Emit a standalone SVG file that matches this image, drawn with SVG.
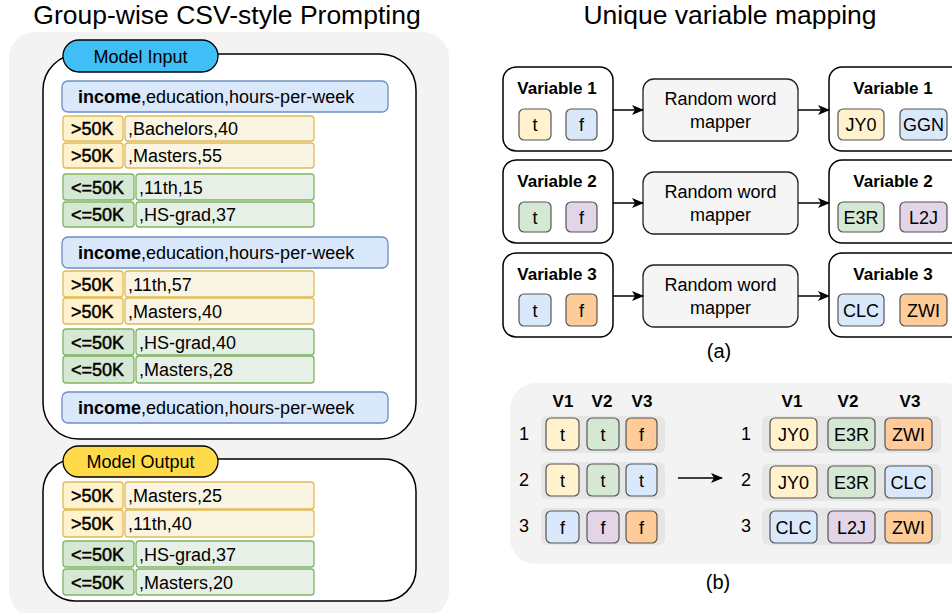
<svg xmlns="http://www.w3.org/2000/svg" width="952" height="613" viewBox="0 0 952 613">
<defs>
<style>
text{font-family:"Liberation Sans",Arial,sans-serif;fill:#000}
.t18{font-size:18px}
.b{font-weight:bold}
.k{stroke:#000;stroke-width:0.5}
.mid{text-anchor:middle}
.panel{fill:#f3f3f3}
.outer{fill:#fff;stroke:#000;stroke-width:1.5}
.hdr{fill:#dae8fc;stroke:#6c8ebf;stroke-width:1.3}
.yk{fill:#fff2cc;stroke:#e0ba58;stroke-width:1.3}
.yv{fill:#faf4e3;stroke:#e0ba58;stroke-width:1.3}
.gk{fill:#d5e8d4;stroke:#82b366;stroke-width:1.3}
.gv{fill:#e7f0e6;stroke:#82b366;stroke-width:1.3}
.box{fill:#fff;stroke:#000;stroke-width:1.5}
.mapper{fill:#f5f5f5;stroke:#222;stroke-width:1.3}
.chip{stroke:#555;stroke-width:1.2}
.cy{fill:#fff2cc}.cb{fill:#dae8fc}.cg{fill:#d5e8d4}.cp{fill:#e1d5e7}.co{fill:#ffcc99}
.strip{fill:#e6e6e6}
.conn{stroke:#000;stroke-width:1.5;fill:none}
</style>
<marker id="arr" viewBox="0 0 12 10" refX="11" refY="5" markerWidth="12" markerHeight="10" markerUnits="userSpaceOnUse" orient="auto">
<path d="M0,0 L12,5 L0,10 L3,5 z" fill="#000"/>
</marker>
</defs>

<!-- Titles -->
<text x="227" y="24" class="mid" style="font-size:26.5px">Group-wise CSV-style Prompting</text>
<text x="730" y="24" class="mid" style="font-size:26.5px">Unique variable mapping</text>

<!-- Left panel -->
<rect class="panel" x="9" y="32" width="440" height="585" rx="26"/>

<g id="model-input">
<rect class="outer" x="43" y="54" width="373" height="385" rx="36"/>
<rect x="63" y="40" width="155" height="32" rx="16" fill="#40bff6" stroke="#000" stroke-width="1.3"/>
<text x="140.5" y="62.5" class="t18 mid">Model Input</text>

<rect class="hdr" x="62" y="81" width="326" height="31" rx="6"/>
<text x="78" y="103" class="t18"><tspan class="b">income</tspan>,education,hours-per-week</text>

<rect class="yk" x="63" y="116" width="60" height="25" rx="3"/>
<rect class="yv" x="125" y="116" width="189" height="25" rx="3"/>
<text x="71" y="135" class="t18 k">&gt;50K</text><text x="128" y="135" class="t18">,Bachelors,40</text>
<rect class="yk" x="63" y="143" width="60" height="25" rx="3"/>
<rect class="yv" x="125" y="143" width="189" height="25" rx="3"/>
<text x="71" y="162" class="t18 k">&gt;50K</text><text x="128" y="162" class="t18">,Masters,55</text>

<rect class="gk" x="63" y="174" width="71" height="26" rx="3"/>
<rect class="gv" x="136" y="174" width="178" height="26" rx="3"/>
<text x="71" y="193.5" class="t18 k">&lt;=50K</text><text x="139" y="193.5" class="t18">,11th,15</text>
<rect class="gk" x="63" y="202" width="71" height="25" rx="3"/>
<rect class="gv" x="136" y="202" width="178" height="25" rx="3"/>
<text x="71" y="221" class="t18 k">&lt;=50K</text><text x="139" y="221" class="t18">,HS-grad,37</text>

<rect class="hdr" x="62" y="237" width="326" height="31" rx="6"/>
<text x="78" y="259" class="t18"><tspan class="b">income</tspan>,education,hours-per-week</text>

<rect class="yk" x="63" y="271" width="60" height="26" rx="3"/>
<rect class="yv" x="125" y="271" width="189" height="26" rx="3"/>
<text x="71" y="290.5" class="t18 k">&gt;50K</text><text x="128" y="290.5" class="t18">,11th,57</text>
<rect class="yk" x="63" y="298" width="60" height="26" rx="3"/>
<rect class="yv" x="125" y="298" width="189" height="26" rx="3"/>
<text x="71" y="317.5" class="t18 k">&gt;50K</text><text x="128" y="317.5" class="t18">,Masters,40</text>

<rect class="gk" x="63" y="329" width="71" height="26" rx="3"/>
<rect class="gv" x="136" y="329" width="178" height="26" rx="3"/>
<text x="71" y="348.5" class="t18 k">&lt;=50K</text><text x="139" y="348.5" class="t18">,HS-grad,40</text>
<rect class="gk" x="63" y="356" width="71" height="27" rx="3"/>
<rect class="gv" x="136" y="356" width="178" height="27" rx="3"/>
<text x="71" y="376" class="t18 k">&lt;=50K</text><text x="139" y="376" class="t18">,Masters,28</text>

<rect class="hdr" x="62" y="392" width="326" height="31" rx="6"/>
<text x="78" y="414" class="t18"><tspan class="b">income</tspan>,education,hours-per-week</text>
</g>

<g id="model-output">
<rect class="outer" x="43" y="459" width="373" height="142" rx="32"/>
<rect x="63" y="446" width="155" height="31" rx="15.5" fill="#ffdb4a" stroke="#000" stroke-width="1.3"/>
<text x="140.5" y="467.5" class="t18 mid">Model Output</text>

<rect class="yk" x="63" y="482" width="60" height="27" rx="3"/>
<rect class="yv" x="125" y="482" width="189" height="27" rx="3"/>
<text x="71" y="502" class="t18 k">&gt;50K</text><text x="128" y="502" class="t18">,Masters,25</text>
<rect class="yk" x="63" y="510" width="60" height="27" rx="3"/>
<rect class="yv" x="125" y="510" width="189" height="27" rx="3"/>
<text x="71" y="530" class="t18 k">&gt;50K</text><text x="128" y="530" class="t18">,11th,40</text>

<rect class="gk" x="63" y="541" width="71" height="26" rx="3"/>
<rect class="gv" x="136" y="541" width="178" height="26" rx="3"/>
<text x="71" y="560.5" class="t18 k">&lt;=50K</text><text x="139" y="560.5" class="t18">,HS-grad,37</text>
<rect class="gk" x="63" y="569" width="71" height="26" rx="3"/>
<rect class="gv" x="136" y="569" width="178" height="26" rx="3"/>
<text x="71" y="588.5" class="t18 k">&lt;=50K</text><text x="139" y="588.5" class="t18">,Masters,20</text>
</g>

<!-- (a) -->
<g id="var1-in">
<rect class="box" x="503" y="67" width="110" height="84" rx="13"/>
<text x="557" y="94" class="mid b" style="font-size:17px">Variable 1</text>
<rect class="chip cy" x="519" y="109" width="32" height="31" rx="5"/><text x="535" y="131" class="t18 mid">t</text>
<rect class="chip cb" x="566" y="109" width="31" height="31" rx="5"/><text x="581.5" y="131" class="t18 mid">f</text>
</g>
<g id="mapper1">
<rect class="mapper" x="643" y="79" width="155" height="62" rx="11"/>
<text x="720.5" y="105" class="t18 mid">Random word</text>
<text x="720.5" y="128" class="t18 mid">mapper</text>
</g>
<g id="var1-out">
<rect class="box" x="829" y="67" width="135" height="84" rx="13"/>
<text x="893" y="94" class="mid b" style="font-size:17px">Variable 1</text>
<rect class="chip cy" x="838" y="109" width="46" height="31" rx="5"/><text x="861" y="131" class="t18 mid">JY0</text>
<rect class="chip cb" x="900" y="109" width="47" height="31" rx="5"/><text x="923.5" y="131" class="t18 mid">GGN</text>
</g>

<g id="var2-in">
<rect class="box" x="503" y="160" width="110" height="83" rx="13"/>
<text x="557" y="187" class="mid b" style="font-size:17px">Variable 2</text>
<rect class="chip cg" x="519" y="202" width="32" height="30" rx="5"/><text x="535" y="223.5" class="t18 mid">t</text>
<rect class="chip cp" x="566" y="202" width="31" height="30" rx="5"/><text x="581.5" y="223.5" class="t18 mid">f</text>
</g>
<g id="mapper2">
<rect class="mapper" x="643" y="172" width="155" height="62" rx="11"/>
<text x="720.5" y="198" class="t18 mid">Random word</text>
<text x="720.5" y="221" class="t18 mid">mapper</text>
</g>
<g id="var2-out">
<rect class="box" x="829" y="160" width="135" height="83" rx="13"/>
<text x="893" y="187" class="mid b" style="font-size:17px">Variable 2</text>
<rect class="chip cg" x="838" y="202" width="46" height="30" rx="5"/><text x="861" y="223.5" class="t18 mid">E3R</text>
<rect class="chip cp" x="900" y="202" width="47" height="30" rx="5"/><text x="923.5" y="223.5" class="t18 mid">L2J</text>
</g>

<g id="var3-in">
<rect class="box" x="503" y="253" width="110" height="84" rx="13"/>
<text x="557" y="280" class="mid b" style="font-size:17px">Variable 3</text>
<rect class="chip cb" x="519" y="294" width="32" height="32" rx="5"/><text x="535" y="316.5" class="t18 mid">t</text>
<rect class="chip co" x="566" y="294" width="31" height="32" rx="5"/><text x="581.5" y="316.5" class="t18 mid">f</text>
</g>
<g id="mapper3">
<rect class="mapper" x="643" y="265" width="155" height="62" rx="11"/>
<text x="720.5" y="291" class="t18 mid">Random word</text>
<text x="720.5" y="314" class="t18 mid">mapper</text>
</g>
<g id="var3-out">
<rect class="box" x="829" y="253" width="135" height="84" rx="13"/>
<text x="893" y="280" class="mid b" style="font-size:17px">Variable 3</text>
<rect class="chip cb" x="838" y="294" width="46" height="32" rx="5"/><text x="861" y="316.5" class="t18 mid">CLC</text>
<rect class="chip co" x="900" y="294" width="47" height="32" rx="5"/><text x="923.5" y="316.5" class="t18 mid">ZWI</text>
</g>

<text x="719" y="358" class="mid" style="font-size:20px">(a)</text>

<!-- (b) -->
<g id="table-b">
<rect class="panel" x="510" y="383" width="460" height="181" rx="26"/>
<text x="563" y="407" class="mid b" style="font-size:17px">V1</text>
<text x="602" y="407" class="mid b" style="font-size:17px">V2</text>
<text x="642" y="407" class="mid b" style="font-size:17px">V3</text>
<text x="792" y="407" class="mid b" style="font-size:17px">V1</text>
<text x="848" y="407" class="mid b" style="font-size:17px">V2</text>
<text x="910" y="407" class="mid b" style="font-size:17px">V3</text>

<text x="524" y="440" class="t18 mid">1</text>
<text x="524" y="486" class="t18 mid">2</text>
<text x="524" y="532" class="t18 mid">3</text>
<text x="746" y="440" class="t18 mid">1</text>
<text x="746" y="486" class="t18 mid">2</text>
<text x="746" y="532" class="t18 mid">3</text>

<rect class="strip" x="541" y="416" width="124" height="37" rx="6"/>
<rect class="strip" x="541" y="462" width="124" height="37" rx="6"/>
<rect class="strip" x="541" y="508" width="124" height="37" rx="6"/>
<rect class="strip" x="762" y="416" width="179" height="37" rx="6"/>
<rect class="strip" x="762" y="464" width="179" height="37" rx="6"/>
<rect class="strip" x="762" y="508" width="179" height="37" rx="6"/>

<rect class="chip cy" x="546" y="418" width="33" height="32" rx="5"/><text x="562.5" y="440.5" class="t18 mid">t</text>
<rect class="chip cg" x="587" y="418" width="32" height="32" rx="5"/><text x="603" y="440.5" class="t18 mid">t</text>
<rect class="chip co" x="626" y="418" width="31" height="32" rx="5"/><text x="641.5" y="440.5" class="t18 mid">f</text>

<rect class="chip cy" x="546" y="464" width="33" height="32" rx="5"/><text x="562.5" y="486.5" class="t18 mid">t</text>
<rect class="chip cg" x="587" y="464" width="32" height="32" rx="5"/><text x="603" y="486.5" class="t18 mid">t</text>
<rect class="chip cb" x="626" y="464" width="31" height="32" rx="5"/><text x="641.5" y="486.5" class="t18 mid">t</text>

<rect class="chip cb" x="546" y="511" width="33" height="32" rx="5"/><text x="562.5" y="533.5" class="t18 mid">f</text>
<rect class="chip cp" x="587" y="511" width="32" height="32" rx="5"/><text x="603" y="533.5" class="t18 mid">f</text>
<rect class="chip co" x="626" y="511" width="31" height="32" rx="5"/><text x="641.5" y="533.5" class="t18 mid">f</text>

<rect class="chip cy" x="770" y="418" width="47" height="32" rx="5"/><text x="793.5" y="440.5" class="t18 mid">JY0</text>
<rect class="chip cg" x="828" y="418" width="47" height="32" rx="5"/><text x="851.5" y="440.5" class="t18 mid">E3R</text>
<rect class="chip co" x="885" y="418" width="47" height="32" rx="5"/><text x="908.5" y="440.5" class="t18 mid">ZWI</text>

<rect class="chip cy" x="770" y="466" width="47" height="32" rx="5"/><text x="793.5" y="488.5" class="t18 mid">JY0</text>
<rect class="chip cg" x="828" y="466" width="47" height="32" rx="5"/><text x="851.5" y="488.5" class="t18 mid">E3R</text>
<rect class="chip cb" x="885" y="466" width="47" height="32" rx="5"/><text x="908.5" y="488.5" class="t18 mid">CLC</text>

<rect class="chip cb" x="770" y="511" width="47" height="32" rx="5"/><text x="793.5" y="533.5" class="t18 mid">CLC</text>
<rect class="chip cp" x="828" y="511" width="47" height="32" rx="5"/><text x="851.5" y="533.5" class="t18 mid">L2J</text>
<rect class="chip co" x="885" y="511" width="47" height="32" rx="5"/><text x="908.5" y="533.5" class="t18 mid">ZWI</text>
</g>

<text x="718" y="589" class="mid" style="font-size:20px">(b)</text>

<!-- Connectors -->
<g id="connectors">
<line class="conn" x1="613" y1="110" x2="643" y2="110" marker-end="url(#arr)"/>
<line class="conn" x1="798" y1="110" x2="829" y2="110" marker-end="url(#arr)"/>
<line class="conn" x1="613" y1="203" x2="643" y2="203" marker-end="url(#arr)"/>
<line class="conn" x1="798" y1="203" x2="829" y2="203" marker-end="url(#arr)"/>
<line class="conn" x1="613" y1="296" x2="643" y2="296" marker-end="url(#arr)"/>
<line class="conn" x1="798" y1="296" x2="829" y2="296" marker-end="url(#arr)"/>
<line class="conn" x1="678" y1="478" x2="722" y2="478" marker-end="url(#arr)"/>
</g>
</svg>
